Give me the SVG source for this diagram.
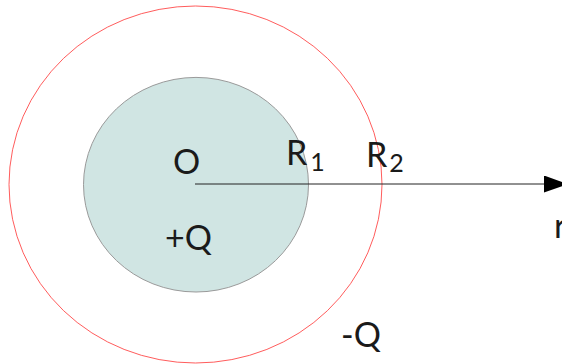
<svg xmlns="http://www.w3.org/2000/svg" width="562" height="364" viewBox="0 0 562 364">
<defs>
<style>
.t{font-family:Lato,"DejaVu Sans",sans-serif;font-size:34px;fill:#1a1a1a}
.s{font-size:25px}
</style>
<marker id="ah" markerWidth="24" markerHeight="17" refX="23" refY="8.5" orient="auto" markerUnits="userSpaceOnUse">
<path d="M0,0 L24,8.5 L0,17 Z" fill="#000"/>
</marker>
</defs>
<rect width="562" height="364" fill="#fff"/>
<g id="outer-shell">
<ellipse cx="195.5" cy="184.5" rx="186.5" ry="178.5" fill="none" stroke="#ff4a4a" stroke-width="0.9"/>
</g>
<g id="inner-sphere">
<ellipse cx="196" cy="184.7" rx="112.5" ry="107.3" fill="#d0e5e3" stroke="#9a9a9a" stroke-width="1"/>
</g>
<g id="connectors">
<line x1="195" y1="184" x2="567" y2="184" stroke="#222" stroke-width="1" marker-end="url(#ah)"/>
</g>
<g id="labels">
<text class="t" x="173" y="174">O</text>
<text class="t" x="286" y="165">R<tspan class="s" dx="3" dy="6">1</tspan></text>
<text class="t" x="366" y="167">R<tspan class="s" dx="2" dy="5">2</tspan></text>
<text class="t" x="165" y="250">+Q</text>
<text class="t" x="341" y="347">-Q</text>
<text class="t" x="554" y="238">r</text>
</g>
</svg>
